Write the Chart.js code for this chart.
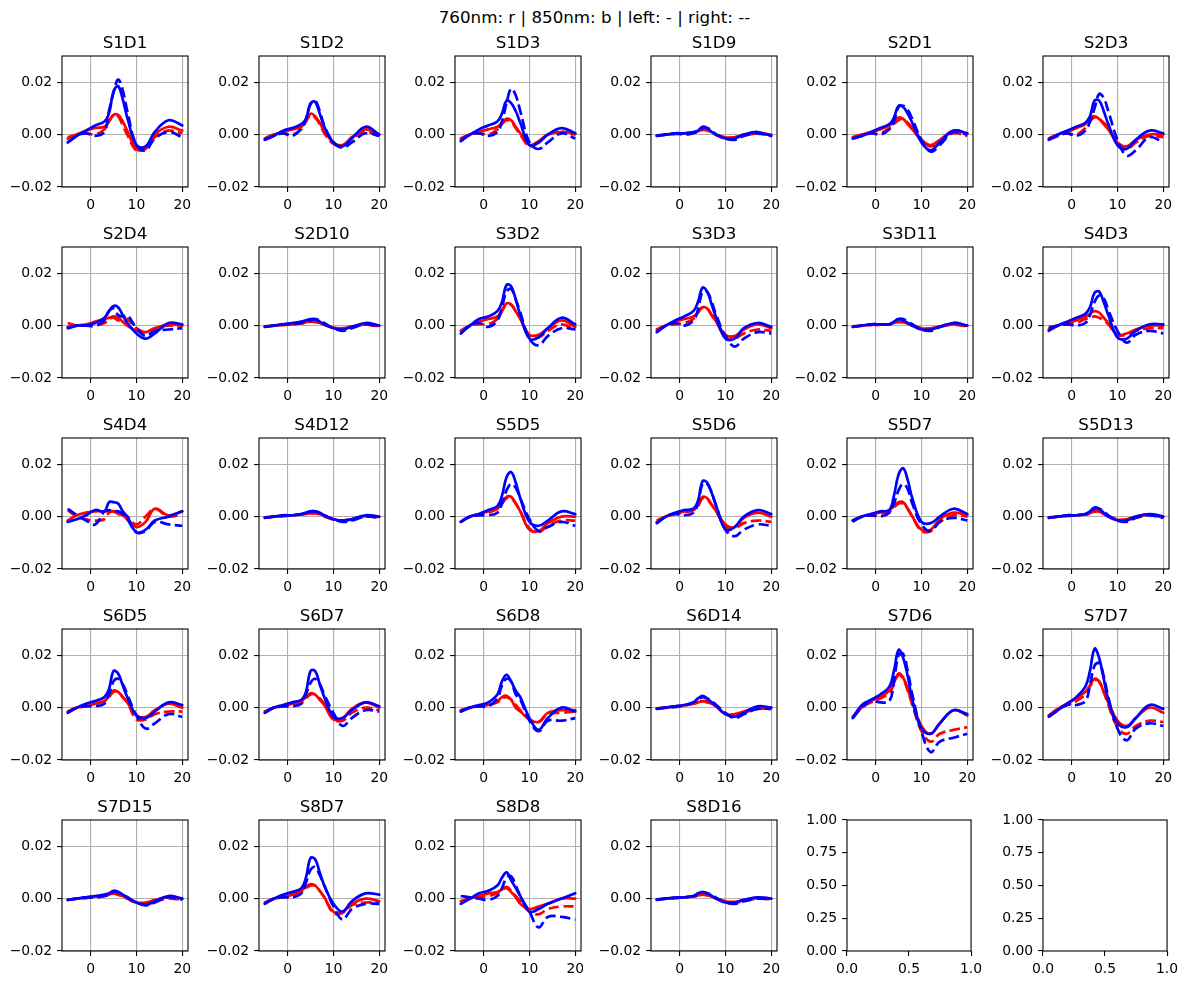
<!DOCTYPE html>
<html>
<head>
<meta charset="utf-8">
<script src="https://cdn.jsdelivr.net/npm/chart.js@4.4.1/dist/chart.umd.min.js"></script>
<style>
body { margin: 0; background: #fff; }
#fig { position: relative; width: 1189px; height: 985px; background: #fff; overflow: hidden; }
#fig canvas { position: absolute; }
#suptitle { position: absolute; left: 0; top: 7px; width: 1189px; text-align: center;
  font-family: "DejaVu Sans"; font-size: 16.7px; line-height: 20px; color: #000; }
</style>
</head>
<body>
<div id="fig"><div id="suptitle">760nm: r | 850nm: b | left: - | right: --</div></div>
<script>
const channels = [
  'S1D1', 'S1D2', 'S1D3', 'S1D9', 'S2D1', 'S2D3',
  'S2D4', 'S2D10', 'S3D2', 'S3D3', 'S3D11', 'S4D3',
  'S4D4', 'S4D12', 'S5D5', 'S5D6', 'S5D7', 'S5D13',
  'S6D5', 'S6D7', 'S6D8', 'S6D14', 'S7D6', 'S7D7',
  'S7D15', 'S8D7', 'S8D8', 'S8D16'
];
const timePoints = [-5, -3, -1, 1, 3, 4, 5, 6, 7, 8, 10, 12, 14, 17, 20];
const xTicks = [0, 10, 20];
const yTicks = [-0.02, 0, 0.02];
const emptyXTicks = [0, 0.5, 1];
const emptyYTicks = [0, 0.25, 0.5, 0.75, 1];
const valueUnit = 1e-3; // values below are read in thousandths

// 760nm, left side (solid red)
const red760Left = [
  [-1.5,0,1.5,2.5,3,5,7.5,7.5,5,1.5,-5.5,-5.5,0,3,1.5],
  [-1.5,0,1,2,3,5,8,7,4.5,1.5,-3,-4,-1,2,0],
  [-1.5,0,1,2,3,4.5,6,5.5,3,0.5,-4,-2.5,0,1,0.5],
  [-0.3,0,0.3,0.5,0.8,1.2,2,1.8,1,0,-1,-1,0,0.5,0],
  [-1,0,1,2,3.5,5,6.5,6,4,2,-2,-4,-2,1.5,0.5],
  [-1.5,0,1,2.5,4,6.5,7,6,4,2,-3,-4.5,-2,0,0],
  [-0.5,0,0.5,1.5,2.5,3,3.5,3,1.5,0,-2,-2.5,-1,0.5,0],
  [-0.3,0,0.3,0.5,1,1.3,1.5,1.3,1,0.3,-0.8,-1,-0.3,0.5,0],
  [-2,0,1.5,2.5,3.5,6,8.5,8,5.5,2.5,-3.5,-3.5,-1,2,-0.5],
  [-1.5,0,1.5,2.5,3.5,5,7,6.5,4,1.5,-3.5,-4,-1.5,0.5,-1],
  [-0.3,0,0.3,0.3,0.5,1,1.5,1.3,0.8,0,-1,-1,-0.3,0.5,0],
  [-1.5,0,1,2,3.5,4.5,5.5,5,3,1,-3.5,-3,-1.5,0,0],
  [-1.5,0.5,1.5,2,2,2,2,1,0.5,-1,-4,-2,3,0.5,2],
  [-0.3,0,0.3,0.5,0.8,1,1.3,1.3,1,0.3,-1,-1.5,-1,0.3,0],
  [-2,0,1,2,3,5,7.5,7.5,5,2,-5,-5.5,-2.5,0,0],
  [-2,0,1,2,2.5,4.5,7.5,7,4.5,2,-3,-4,-0.5,1.5,0],
  [-1.5,0,1,1.5,2.5,4,5.5,5.5,3,0,-5,-5,-1,1.5,0.5],
  [-0.3,0,0.3,0.5,0.8,1.3,2,2,1,0,-1.2,-1,0,0.8,0],
  [-1.5,0,0.5,1.5,2.5,4.5,6.5,6,4,2,-3,-3.5,-1,1.5,0],
  [-1.5,0,0.5,1.5,2.5,4,5.5,5,3,1,-4.5,-4,-0.5,2,0],
  [-1,0,0.5,1,2.5,4,4.5,3,0,-1.5,-4.5,-5.5,-2,-1,-1],
  [-0.3,0,0.5,0.8,1.5,2,2.5,2,1.5,0.5,-2.5,-2.5,-1.5,0,0],
  [-3.5,0,2.5,4,6.5,9.5,13,11.5,7,2,-7,-10,-6,-1,-3],
  [-3,-0.5,1.5,3.5,6,8.5,11,10,6,2,-5,-7,-4,0,-2],
  [-0.5,0,0.3,0.8,1,1.5,2,1.5,1,0,-1.5,-1.5,-0.5,0.5,0],
  [-1.5,0,0.5,1.5,3,4.5,5.5,5,3,0.5,-5,-5,-2,0,-1],
  [-1,0,1,2,2.5,3.5,4,2.5,0.5,-2,-4,-3,-2,0,0],
  [-0.3,0,0.3,0.5,0.8,1.2,1.5,1.3,0.8,0,-1,-1.2,-0.5,0.3,0]
];

// 760nm, right side (dashed red)
const red760Right = [
  [-1,0,0.5,0,2,5,7.5,7,3.5,0,-6,-5,-1,1.5,0.5],
  [-1.5,0,0.5,0,2,5,7.5,6.5,4,0.5,-3.5,-4,-1.5,1,-0.5],
  [-1.5,0,0.5,0,2,4,5.5,5,2.5,0,-4.5,-3,0,1,0],
  [-0.3,0,0.3,0.3,0.6,1,1.8,1.6,0.8,-0.2,-1.2,-1,-0.3,0.3,0],
  [-1,0,0.5,0.5,2.5,4,5.5,6,4.5,2.5,-2,-4.5,-2.5,0.5,-0.5],
  [-1.5,0,0.5,0,2.5,5,6.5,6,4.5,2.5,-3,-5.5,-3,-0.5,-1],
  [1,0,0,0,1,2.5,3,2,2.5,2.5,-1,-2.5,-1,0,0],
  [-0.3,0,0.3,0.5,0.8,1.2,1.5,1.5,1,0.3,-0.8,-1.2,-0.5,0.3,-0.3],
  [-2,0,0.5,0.5,2.5,5.5,8,8,5.5,3,-4,-4.5,-2,0.5,-1.5],
  [-1.5,0,0.5,1,2.5,5,7,6.5,4,1.5,-4.5,-5,-3,-1.5,-2],
  [-0.3,0,0.3,0.3,0.5,1,1.3,1.3,0.8,0,-1,-1.2,-0.5,0.3,-0.3],
  [-0.5,0,0.5,1,2.5,3,3.5,3,2,0.5,-3.5,-3.5,-2,-1,-1],
  [2.5,0,-1,-1.5,-1,1.5,2,1.5,1,0,-3,0,3,0,1],
  [-0.3,0,0.3,0.5,0.8,1,1.2,1.2,0.8,0,-1.2,-1.5,-1,0,-0.3],
  [-2,0,0.5,1.5,3,5,7,7,5,2,-4.5,-6,-3.5,-1.5,-1.5],
  [-1.5,0,1,1.5,2.5,4,7,6.5,4.5,2,-4,-4.5,-2.5,-1.5,-2],
  [-1.5,0,0.5,1,2,3.5,5,5,3,0,-5.5,-5.5,-2,0.5,0],
  [-0.3,0,0.3,0.5,0.8,1,2,2,1.2,0.2,-1,-1.2,-0.3,0.5,-0.3],
  [-1.5,0,0.5,1.5,2.5,4,6,6,4,2,-4.5,-4.5,-2.5,-1.5,-1.5],
  [-1.5,0,0.5,1,2,3.5,5,5,3.5,1.5,-4.5,-5,-2,0,-1],
  [-1,0,0.5,1,2,3.5,4,3,1,-1,-4.5,-5.5,-2.5,-2,-1.5],
  [-0.3,0,0.3,0.8,1.5,2,2.5,2.5,1.5,0.5,-2.5,-3,-2,-0.5,-0.5],
  [-3.5,0,2,3.5,5.5,9,12.5,11,6.5,1,-9,-13,-10,-8.5,-7.5],
  [-3,-0.5,1,2.5,5,8,10.5,10,6,1,-7.5,-10,-7,-5,-5.5],
  [-0.5,0,0.3,0.5,1,1.5,2,1.5,1,0,-1.5,-2,-1,0,-0.5],
  [-1.5,0,0.5,1,2.5,4,5,5,3,0.5,-5.5,-5.5,-2.5,-1.5,-1.5],
  [-1,0,0.5,1,2,3.5,4.5,3,1,-1,-5,-6,-4,-3,-3],
  [-0.3,0,0.3,0.5,0.8,1,1.5,1.3,0.8,0,-1,-1.5,-1,0,-0.3]
];

// 850nm, left side (solid blue)
const blue850Left = [
  [-3,-0.5,1.5,3.5,5,8,16.5,18.5,13.5,6.5,-4,-4.5,1,5.5,3.5],
  [-2,-0.5,1.5,2.5,4,6,12,12.5,8,3,-3,-4.5,-1.5,3,0],
  [-2.5,0,2,3.5,5,8,13,12,9,4.5,-4,-3,0,2.5,0.5],
  [-0.5,0,0.5,0.5,1,1.5,3,2.5,1,0,-1.5,-1.5,0,1,-0.5],
  [-1.5,-0.5,1,2.5,4,6.5,11,10.5,8,4.5,-3,-6,-3,1.5,0.5],
  [-2,0,1.5,3,4.5,7,13,13,9,4,-4,-5.5,-2,1.5,0.5],
  [-1,0,0,1,3,5.5,7.5,7,4,1,-3,-5,-3,1,0.5],
  [-0.5,0,0.5,1,1.5,2,2.5,2.5,1.5,0.5,-1,-1.5,-0.5,1,0],
  [-3,0,2.5,3.5,5.5,9,15.5,15,10,4,-5,-4.5,-1,3,0.5],
  [-2.5,0,2,3.5,5.5,9,14.5,13,8,3,-5,-5,-1,1,-0.5],
  [-0.5,0,0.5,0.5,0.5,1.5,2.5,2,1,0,-1.5,-1.5,-0.5,1,0],
  [-2,0,1.5,3,4.5,7,12.5,13,9,4,-4.5,-5,-2,0.5,0.5],
  [-2,-1,0.5,2.5,2,5.5,5.5,5,2,0,-6,-5,-1.5,0,2],
  [-0.5,0,0.5,0.5,1,1.5,2,2,1.5,0.5,-1,-1.5,-1,0.5,0],
  [-2,0,1,2.5,4,8,15,17,13,7,-2,-3.5,-1.5,2,1],
  [-2.5,0,1.5,2.5,3,6,13.5,13,9,4,-5,-4,0,2.5,1],
  [-1.5,0,1,2,2.5,8,16,18.5,14,7,-2,-2.5,0,3,1],
  [-0.5,0,0.5,0.5,1,2,3.5,3,1.5,0,-1.5,-1.5,0,1,0],
  [-2,0,1.5,2.5,4,7,14,13,8.5,4,-3,-4,-1.5,2,1],
  [-2,0,1,2,3,6,14,14,9,4,-3.5,-4,-1,2,0.5],
  [-1.5,0,1,2,5,10,12.5,10,6.5,4,-4,-8.5,-4,0,-1.5],
  [-0.5,0,0.5,1,2,3.5,4.5,3.5,2,0.5,-2.5,-3.5,-2,0.5,0],
  [-4,1,3,5,8,14,22,19,12,3,-8,-10,-6,-1,-2.5],
  [-3.5,-1,1.5,4,8,14,22.5,19,11,3,-6,-7.5,-4,1,-0.5],
  [-0.5,0,0.5,1,1.5,2,3,2.5,1.5,0.5,-1.5,-2.5,-1,1,0],
  [-2,0,1.5,2.5,4,8,15.5,15,10,5,-2,-5,-1,2,1.5],
  [-2,0,2,3,5,8,10,7,4,1,-5,-4,-2,0,2],
  [-0.5,0,0.3,0.5,1,2,2.5,2,1,0,-1.5,-1.5,-0.5,0.5,0]
];

// 850nm, right side (dashed blue)
const blue850Right = [
  [-3,-0.5,0.5,-0.5,1,9,16,21,17,9,-4,-6,-1.5,1,-1],
  [-2,-0.5,0.5,-0.5,2.5,6,11.5,13,9,3.5,-3,-5,-3,0.5,-0.5],
  [-2.5,0,0.5,-0.5,1,5,12,17.5,15,9,-3,-5.5,-3,0.5,-1.5],
  [-0.5,0,0.5,0,0.5,1.5,2.5,2.5,1.5,0,-1.5,-2,-0.5,0.5,-0.5],
  [-1.5,-0.5,0.5,0,2,5,10.5,11,9.5,6,-2,-6.5,-4,1,0],
  [-2,-0.5,0.5,-0.5,1.5,5,10,15.5,14,9,-2,-8,-6,-1,-3],
  [-1,0,0,0,2,5.5,6.5,4,3.5,4,-1,-4,-2,-1.5,-1],
  [-0.5,0,0.5,0.5,1,1.5,2,2.5,2,1,-1,-2,-1,0.5,-0.5],
  [-3,0,1,-0.5,2,7,13,14,10,5,-5,-7.5,-4,-1,-1.5],
  [-2.5,0,1,0,2,6,13,13,9,4,-4,-8,-5,-2.5,-3],
  [-0.5,0,0.5,0.5,0.5,1.5,2.5,2.5,1.5,0.5,-1.5,-2,-0.5,1,0],
  [-1,0,0.5,0,1,4,9,11.5,10.5,6,-2,-6.5,-3.5,-2,-3],
  [3,0.5,-1.5,-3,2,2.5,2,2,1,-1,-6,-5.5,-2,-3,-3.5],
  [-0.5,0,0.3,0.5,1,1.5,2,2,1.5,0.5,-1,-2,-1.5,0,-0.5],
  [-2,0,0.5,0.5,1.5,5,10,12.5,11,7,-1,-5.5,-4,-2,-3.5],
  [-2.5,0,1,0.5,1.5,5,12.5,12.5,9,4,-5,-7.5,-5,-3,-3.5],
  [-2,0,0.5,0,1.5,5,10,12.5,10.5,5,-3,-5.5,-2,-0.5,-1.5],
  [-0.5,0,0.5,0.5,1,1.5,3,3,2,0.5,-1.5,-2,-0.5,0.5,-0.5],
  [-2,0,0.5,0.5,1.5,5,10,11,9,5,-3,-8,-6,-2.5,-3.5],
  [-2,0,0.5,0.5,1.5,5,9.5,11,9,5,-2,-7,-4,-1,-1.5],
  [-1.5,0,0.5,0.5,3.5,8.5,11,10,5,3,-5,-9,-5,-5,-4],
  [-0.5,0,0.3,0.8,2,3,4,3.5,2.5,1,-2,-4,-2.5,-0.5,-0.5],
  [-4,0,2.5,2,2.5,10,20,20.5,14,5,-9,-17,-13,-11.5,-10],
  [-3.5,-1,1,1,2.5,8.5,16,17,12,4,-8,-12.5,-8,-6,-7],
  [-0.5,0,0.5,0.5,1,1.5,2.5,2.5,1.5,0.5,-1.5,-2.5,-1.5,0.5,-0.5],
  [-2,0,0.5,0.5,2,6,11,12,9,5,-3,-8,-4,-2,-2],
  [1,0.5,0,-0.5,1,4,8,8.5,5,1,-5,-11,-7,-7,-8],
  [-0.5,0,0.3,0.5,1,1.5,2.5,2,1.5,0.3,-1.5,-2,-1,0,-0.3]
];

const NCOLS = 6, NROWS = 5;
const PLOT_W = 126, PLOT_H = 131;
const M = { left: 58, top: 32, right: 14, bottom: 26 };
const tickFont = { family: 'DejaVu Sans', size: 13.9 };
const fig = document.getElementById('fig');

// box around the axes + subplot title
const frame = {
  id: 'frame',
  afterDraw(chart, args, opts) {
    const { ctx, chartArea: a } = chart;
    ctx.save();
    ctx.strokeStyle = '#000';
    ctx.lineWidth = 1.1;
    ctx.strokeRect(a.left, a.top, a.right - a.left, a.bottom - a.top);
    if (opts.text) {
      ctx.fillStyle = '#000';
      ctx.font = '16.7px "DejaVu Sans"';
      ctx.textAlign = 'center';
      ctx.textBaseline = 'alphabetic';
      ctx.fillText(opts.text, (a.left + a.right) / 2, a.top - 8);
    }
    ctx.restore();
  }
};

function fmtTick(v, digits) {
  const s = Math.abs(v).toFixed(digits);
  return (v < -1e-12 ? '\u2212' : '') + s;
}

function makeAxis(min, max, ticks, digits, size, gridOn) {
  return {
    type: 'linear', min: min, max: max,
    afterBuildTicks: s => { s.ticks = ticks.map(v => ({ value: v })); },
    afterFit: s => { if (s.isHorizontal()) s.height = size; else s.width = size; },
    border: { display: false },
    grid: { drawOnChartArea: gridOn, color: '#b0b0b0', lineWidth: 1.1,
            drawTicks: true, tickLength: 4.9, tickColor: '#000', tickWidth: 1.1 },
    ticks: { autoSkip: false, maxRotation: 0, padding: 4.9, color: '#000', font: tickFont,
             callback: v => fmtTick(v, digits) }
  };
}

function series(vals, color, dashed) {
  return {
    data: timePoints.map((t, k) => ({ x: t, y: vals[k] * valueUnit })),
    borderColor: color,
    borderWidth: 2.7,
    borderDash: dashed ? [10.4, 4.5] : [],
    borderCapStyle: dashed ? 'butt' : 'round',
    borderJoinStyle: 'round',
    pointRadius: 0,
    fill: false,
    tension: 0.4
  };
}

for (let i = 0; i < NCOLS * NROWS; i++) {
  const r = Math.floor(i / NCOLS), c = i % NCOLS;
  const left = Math.round(62.3 + c * 196.2), top = Math.round(56 + r * 191);
  const cv = document.createElement('canvas');
  cv.width = M.left + PLOT_W + M.right;
  cv.height = M.top + PLOT_H + M.bottom;
  cv.style.left = (left - M.left) + 'px';
  cv.style.top = (top - M.top) + 'px';
  fig.appendChild(cv);

  const hasData = i < channels.length;
  const datasets = hasData ? [
    series(blue850Right[i], '#0000ff', true),
    series(blue850Left[i], '#0000ff', false),
    series(red760Right[i], '#ff0000', true),
    series(red760Left[i], '#ff0000', false)
  ] : [];

  new Chart(cv.getContext('2d'), {
    type: 'line',
    data: { datasets: datasets },
    plugins: [frame],
    options: {
      responsive: false,
      animation: false,
      devicePixelRatio: 1,
      layout: { padding: { left: 0, top: M.top, right: M.right, bottom: 0 } },
      plugins: { legend: { display: false }, tooltip: { enabled: false },
                 frame: { text: hasData ? channels[i] : '' } },
      scales: hasData ? {
        x: makeAxis(-6.25, 21.25, xTicks, 0, M.bottom, true),
        y: makeAxis(-0.02, 0.03, yTicks, 2, M.left, true)
      } : {
        x: makeAxis(0, 1, emptyXTicks, 1, M.bottom, false),
        y: makeAxis(0, 1, emptyYTicks, 2, M.left, false)
      }
    }
  });
}
</script>
</body>
</html>
